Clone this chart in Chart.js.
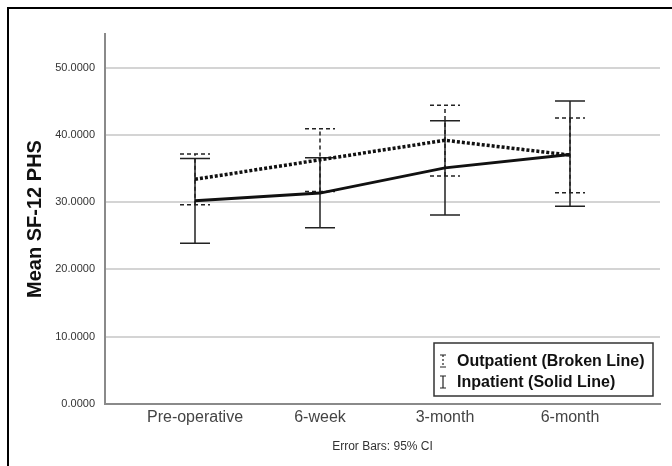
<!DOCTYPE html>
<html>
<head>
<meta charset="utf-8">
<script src="https://cdn.jsdelivr.net/npm/chart.js@4/dist/chart.umd.min.js"></script>
<style>
  body { margin: 0; background: #fff; }
  #wrap { position: relative; width: 672px; height: 466px; }
  #frame { position: absolute; left: 7px; top: 7px; right: -10px; bottom: -10px;
           border-left: 2px solid #000; border-top: 2px solid #000; pointer-events: none; }
</style>
</head>
<body>
<div id="wrap">
  <canvas id="myChart" width="672" height="466"></canvas>
  <div id="frame"></div>
</div>
<script>
// categories and values
const categories = ['Pre-operative', '6-week', '3-month', '6-month'];
const yTicks = [0, 10, 20, 30, 40, 50];

const outMean = [33.4, 36.3, 39.2, 37.0];
const outLow  = [29.6, 31.6, 33.9, 31.4];
const outHigh = [37.15, 40.9, 44.4, 42.5];

const inMean = [30.2, 31.35, 35.1, 37.1];
const inLow  = [23.9, 26.2, 28.1, 29.4];
const inHigh = [36.5, 36.6, 42.1, 45.05];

const FONT = '"Liberation Sans", Arial, sans-serif';
const toPoints = arr => arr.map((v, i) => ({x: i, y: v}));

// error bars (95% CI), drawn behind the mean lines
const errorBars = {
    id: 'errorBars',
    beforeDatasetsDraw(chart) {
        const {ctx, scales: {x, y}} = chart;
        const groups = [
            {low: inLow, high: inHigh, dash: []},
            {low: outLow, high: outHigh, dash: [4, 3]}
        ];
        ctx.save();
        ctx.strokeStyle = '#222';
        ctx.lineWidth = 1.5;
        groups.forEach(g => {
            ctx.setLineDash(g.dash);
            g.low.forEach((lo, i) => {
                const px = x.getPixelForValue(i);
                const yl = y.getPixelForValue(lo);
                const yh = y.getPixelForValue(g.high[i]);
                ctx.beginPath();
                ctx.moveTo(px, yl); ctx.lineTo(px, yh);
                ctx.moveTo(px - 15, yl); ctx.lineTo(px + 15, yl);
                ctx.moveTo(px - 15, yh); ctx.lineTo(px + 15, yh);
                ctx.stroke();
            });
        });
        ctx.restore();
    }
};

// legend box in the lower right corner of the plot
const boxLegend = {
    id: 'boxLegend',
    afterDraw(chart) {
        const {ctx, chartArea} = chart;
        const right = chartArea.right - 7, bottom = chartArea.bottom - 8;
        const w = 219, h = 53;
        const left = right - w, top = bottom - h;
        ctx.save();
        ctx.fillStyle = '#fff';
        ctx.fillRect(left, top, w, h);
        ctx.strokeStyle = '#333';
        ctx.lineWidth = 1.5;
        ctx.setLineDash([]);
        ctx.strokeRect(left, top, w, h);

        const rows = [
            {text: chart.data.datasets[0].label, dash: [2, 2], cy: top + 18},
            {text: chart.data.datasets[1].label, dash: [], cy: top + 39}
        ];
        ctx.font = 'bold 16px ' + FONT;
        ctx.textBaseline = 'middle';
        ctx.fillStyle = '#111';
        rows.forEach(r => {
            const ix = left + 9;
            ctx.lineWidth = 1.2;
            ctx.strokeStyle = '#222';
            ctx.setLineDash(r.dash);
            ctx.beginPath();
            ctx.moveTo(ix, r.cy - 6); ctx.lineTo(ix, r.cy + 6);
            ctx.stroke();
            ctx.setLineDash([]);
            ctx.beginPath();
            ctx.moveTo(ix - 3, r.cy - 6); ctx.lineTo(ix + 3, r.cy - 6);
            ctx.moveTo(ix - 3, r.cy + 6); ctx.lineTo(ix + 3, r.cy + 6);
            ctx.stroke();
            ctx.fillText(r.text, left + 23, r.cy + 1);
        });
        ctx.restore();
    }
};

const ctx = document.getElementById('myChart').getContext('2d');

const myChart = new Chart(ctx, {
    type: 'line',
    data: {
        datasets: [{
            label: 'Outpatient (Broken Line)',
            data: toPoints(outMean),
            borderColor: '#111',
            borderWidth: 3.5,
            borderDash: [3, 2],
            pointRadius: 0,
            fill: false
        }, {
            label: 'Inpatient (Solid Line)',
            data: toPoints(inMean),
            borderColor: '#111',
            borderWidth: 3,
            pointRadius: 0,
            fill: false
        }]
    },
    options: {
        responsive: false,
        animation: false,
        layout: { padding: { top: 34, right: 12, left: 0, bottom: 0 } },
        plugins: {
            legend: { display: false },
            tooltip: { enabled: false }
        },
        scales: {
            x: {
                type: 'linear',
                min: -0.72,
                max: 3.72,
                afterBuildTicks: s => { s.ticks = categories.map((c, i) => ({value: i})); },
                afterFit: s => { s.height = 62; },
                grid: { display: false, drawTicks: false },
                border: { display: true, color: '#8a8a8a', width: 2 },
                ticks: {
                    callback: v => categories[v],
                    color: '#444',
                    padding: 4,
                    maxRotation: 0,
                    font: { family: FONT, size: 16 }
                },
                title: {
                    display: true,
                    text: 'Error Bars: 95% CI',
                    color: '#333',
                    padding: { top: 0, bottom: 12 },
                    font: { family: FONT, size: 12 }
                }
            },
            y: {
                min: 0,
                max: 55,
                afterBuildTicks: s => { s.ticks = yTicks.map(v => ({value: v})); },
                afterFit: s => { s.width = 105; },
                grid: { color: '#d4d4d4', lineWidth: 2, drawTicks: false },
                border: { display: true, color: '#8a8a8a', width: 2 },
                ticks: {
                    callback: v => v.toFixed(4),
                    color: '#333',
                    padding: 10,
                    font: { family: FONT, size: 11 }
                },
                title: {
                    display: true,
                    text: 'Mean SF-12 PHS',
                    color: '#111',
                    padding: { top: 23, bottom: 0 },
                    font: { family: FONT, size: 20, weight: 'bold' }
                }
            }
        }
    },
    plugins: [errorBars, boxLegend]
});
</script>
</body>
</html>
